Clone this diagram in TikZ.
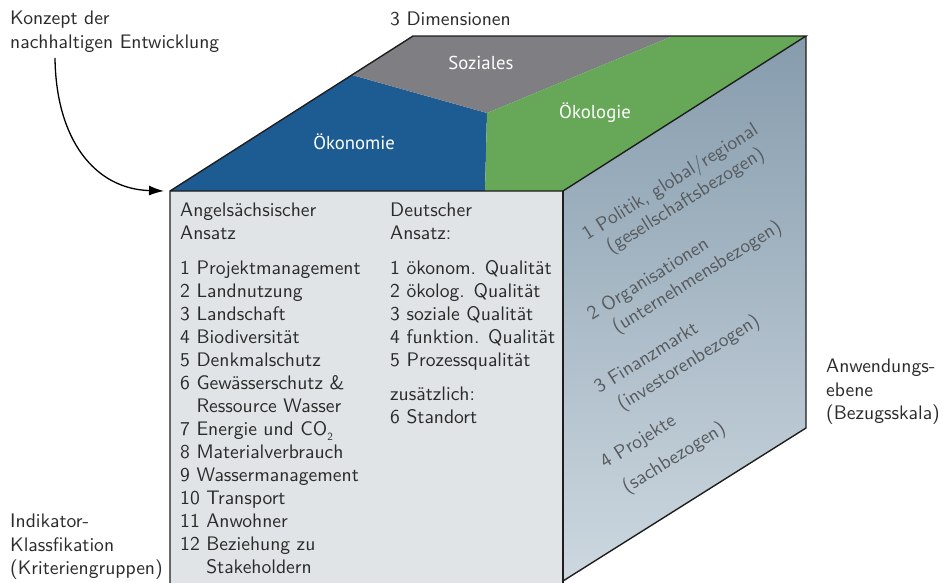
\documentclass[tikz,border=0pt]{standalone}
\usepackage{fontspec}
\newfontfamily\toplabelfont{PT Sans}
\newfontfamily\textsans{lmsans10-regular.otf}
\usetikzlibrary{arrows.meta}

\definecolor{econblue}{HTML}{1D5B93}
\definecolor{socgray}{HTML}{7F7F83}
\definecolor{ecogreen}{HTML}{66A857}
\definecolor{frontface}{HTML}{E1E4E6}
\definecolor{sidetop}{HTML}{869CAD}
\definecolor{sidebottom}{HTML}{CDD8E0}
\definecolor{edgeline}{HTML}{1E1E1E}
\definecolor{textdark}{HTML}{2B2B2B}
\definecolor{textside}{HTML}{575B5F}

\tikzset{
  edges/.style={draw=edgeline, line width=1.4pt, line join=miter},
  facetext/.style={inner sep=0pt, align=left, text=textdark,
    font=\textsans\fontsize{19.6}{23}\selectfont},
  outertext/.style={inner sep=0pt, align=left, text=textdark,
    font=\textsans\fontsize{19.6}{23.5}\selectfont},
  dimlabel/.style={inner sep=0pt, text=white,
    font=\toplabelfont\fontsize{18.7}{20}\selectfont},
  sidetext/.style={inner sep=0pt, anchor=base west, rotate=32, text=textside,
    font=\textsans\fontsize{19.6}{22}\selectfont},
  pointer/.style={draw=black, line width=1.3pt,
    -{Latex[length=15pt,width=10pt]}}
}

\begin{document}
\begin{tikzpicture}[x=1pt,y=-1pt]
\useasboundingbox (0,0) rectangle (943,582);

% cube corners
\coordinate (FTL) at (170,191);
\coordinate (FTR) at (563,191);
\coordinate (FBR) at (563,581);
\coordinate (FBL) at (170,590);
\coordinate (FBRlow) at (563,590);
\coordinate (BTL) at (413,36);
\coordinate (BTR) at (806,36);
\coordinate (BBR) at (806,428);

% division of the top face into the three dimensions
\coordinate (Mid) at (487,113);
\coordinate (LeftCut) at (352,75);
\coordinate (TopCut) at (673,36);
\coordinate (FrontCut) at (485,191);

% front face
\fill[frontface] (FTL) -- (FTR) -- (FBRlow) -- (FBL) -- cycle;

% right face with vertical gradient
\shade[top color=sidetop, bottom color=sidebottom]
  (FTR) -- (BTR) -- (BBR) -- (FBR) -- cycle;

% top face
\fill[econblue] (FTL) -- (LeftCut) -- (Mid) -- (FrontCut) -- cycle;
\fill[socgray] (LeftCut) -- (BTL) -- (TopCut) -- (Mid) -- cycle;
\fill[ecogreen] (Mid) -- (TopCut) -- (BTR) -- (FTR) -- (FrontCut) -- cycle;

% edges
\draw[edges] (FBL) -- (FTL) -- (BTL) -- (BTR) -- (FTR) -- (FTL);
\draw[edges] (FTR) -- (FBRlow);
\draw[edges] (BTR) -- (BBR) -- (FBR);

% dimension labels
\node[dimlabel] (soz) at (481,63) {Soziales};
\node[dimlabel] (oekon) at (354,142) {Ökonomie};
\node[dimlabel] (oekol) at (595,113) {Ökologie};

% front face: indicator lists
\node[facetext, anchor=north west] (anglo) at (180,203) {%
Angelsächsischer\\
Ansatz\\[12pt]
1 Projektmanagement\\
2 Landnutzung\\
3 Landschaft\\
4 Biodiversität\\
5 Denkmalschutz\\
6 Gewässerschutz \&\\
\phantom{6 }Ressource Wasser\\
7 Energie und CO\raisebox{-5pt}{\fontsize{11}{11}\selectfont 2}\\
8 Materialverbrauch\\
9 Wassermanagement\\
10 Transport\\
11 Anwohner\\
12 Beziehung zu\\
\phantom{12 }Stakeholdern};

\node[facetext, anchor=north west] (german) at (390,203) {%
Deutscher\\
Ansatz:\\[12pt]
1 ökonom. Qualität\\
2 ökolog. Qualität\\
3 soziale Qualität\\
4 funktion. Qualität\\
5 Prozessqualität\\[11pt]
zusätzlich:\\
6 Standort};

% right face: levels of application
\node[sidetext] (lvla) at (587,241) {1 Politik, global/regional};
\node[sidetext] (lvlab) at (611,254) {(gesellschaftsbezogen)};
\node[sidetext] (lvlb) at (592,321) {2 Organisationen};
\node[sidetext] (lvlbb) at (617,334) {(unternehmensbezogen)};
\node[sidetext] (lvlc) at (599,394) {3 Finanzmarkt};
\node[sidetext] (lvlcb) at (622,411) {(investorenbezogen)};
\node[sidetext] (lvld) at (605,469) {4 Projekte};
\node[sidetext] (lvldb) at (627,494) {(sachbezogen)};

% outer captions
\node[outertext, anchor=north west] (concept) at (10,11)
  {Konzept der\\nachhaltigen Entwicklung};
\node[outertext, anchor=base west] (dims) at (390,25) {3 Dimensionen};
\node[outertext, anchor=north west] (scale) at (826,359)
  {Anwendungs-\\ebene\\(Bezugsskala)};
\node[outertext, anchor=north west] (classes) at (10,514)
  {Indikator-\\Klassfikation\\(Kriteriengruppen)};

% arrow from the concept caption to the cube
\coordinate (arrowstart) at (55,58);
\coordinate (arrowend) at (164,191);
\draw[pointer] (arrowstart) .. controls (56,140) and (95,189) .. (arrowend);
\end{tikzpicture}
\end{document}
